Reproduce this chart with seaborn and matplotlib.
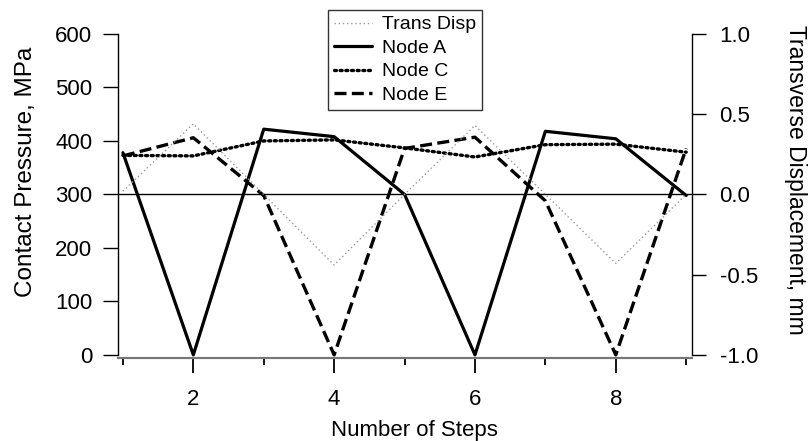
import pandas as pd
import seaborn as sns
import matplotlib.pyplot as plt
from matplotlib.ticker import MultipleLocator

# values
steps = [1, 2, 3, 4, 5, 6, 7, 8, 9]
trans_disp = [0.02, 0.44, 0.0, -0.44, 0.0, 0.43, 0.0, -0.43, 0.0]
node_a = [378, 0, 422, 408, 300, 0, 418, 404, 298]
node_c = [373, 372, 400, 402, 387, 370, 393, 394, 379]
node_e = [372, 406, 298, 0, 386, 407, 288, 0, 386]

sns.set_style('white')
plt.rcParams['font.family'] = ['Liberation Sans', 'DejaVu Sans']
plt.rcParams.update({'text.color': 'black', 'axes.labelcolor': 'black',
                     'xtick.color': 'black', 'ytick.color': 'black'})

df = pd.DataFrame({'step': steps, 'trans': trans_disp,
                   'A': node_a, 'C': node_c, 'E': node_e})

fig = plt.figure(figsize=(8.12, 4.41), dpi=100)
ax = fig.add_axes([0.1453, 0.188, 0.7067, 0.735])
ax2 = ax.twinx()

# transverse displacement on the right axis
sns.lineplot(data=df, x='step', y='trans', ax=ax2, color='#999999',
             lw=1.0, linestyle=(0, (1, 2)), label='Trans Disp', legend=False)

sns.lineplot(data=df, x='step', y='A', ax=ax, color='black', lw=2.3,
             linestyle='-', label='Node A', legend=False)
sns.lineplot(data=df, x='step', y='C', ax=ax, color='black', lw=2.4,
             linestyle=(0, (0.6, 1.1)), label='Node C', legend=False,
             dash_capstyle='round')
sns.lineplot(data=df, x='step', y='E', ax=ax, color='black', lw=2.4,
             linestyle=(0, (3.6, 1.6)), label='Node E', legend=False)
ax.axhline(300, color='black', lw=1.0)

ax.set_xlim(0.93, 9.08)
ax.set_ylim(-6, 600)
ax2.set_ylim(-1.02, 1.0)

ax.xaxis.set_major_locator(MultipleLocator(2))
ax.xaxis.set_minor_locator(MultipleLocator(1))
ax.yaxis.set_major_locator(MultipleLocator(100))
ax2.yaxis.set_major_locator(MultipleLocator(0.5))
ax2.yaxis.set_major_formatter(plt.FormatStrFormatter('%.1f'))

for a in (ax, ax2):
    a.spines['top'].set_visible(False)
    for s in a.spines.values():
        s.set_linewidth(1.0)
        s.set_color('black')
    a.spines['bottom'].set_color('#777777')
    a.spines['bottom'].set_linewidth(1.5)
ax.spines['right'].set_visible(False)
ax2.spines['left'].set_visible(False)
ax.spines['left'].set_bounds(0, 600)
ax2.spines['right'].set_bounds(-1.0, 1.0)

ax.tick_params(axis='x', which='major', direction='out', length=11, width=1.3,
               labelsize=16, pad=11, bottom=True)
ax.tick_params(axis='x', which='minor', direction='out', length=5, width=1.3,
               bottom=True)
ax.tick_params(axis='y', direction='out', length=10.5, width=1.0,
               labelsize=16, pad=8, left=True)
ax2.tick_params(axis='y', direction='out', length=10, width=1.0,
                labelsize=16, pad=10, right=True)

ax.set_xlabel('Number of Steps', fontsize=16, va='center', ha='center')
ax.xaxis.set_label_coords(0.5165, -0.222)
ax.set_ylabel('Contact Pressure, MPa', fontsize=17.5, va='center',
              ha='center', rotation_mode='default')
ax.yaxis.set_label_coords(-0.16, 0.575)
ax2.set_ylabel('Transverse Displacement, mm', fontsize=16.5, rotation=-90,
               va='center', ha='center', rotation_mode='default')
ax2.yaxis.set_label_coords(1.181, 0.549)

h1, l1 = ax2.get_legend_handles_labels()
h2, l2 = ax.get_legend_handles_labels()
leg = fig.legend(h1 + h2, l1 + l2, loc='upper left',
                 bbox_to_anchor=(328 / 812, 1 - 10 / 441), fontsize=14,
                 frameon=True, fancybox=False, handlelength=1.95,
                 handletextpad=0.55, borderpad=0.3, labelspacing=0.3,
                 borderaxespad=0)
leg.get_frame().set_edgecolor('black')
leg.get_frame().set_linewidth(1.0)

fig.savefig('out.png', dpi=100)
